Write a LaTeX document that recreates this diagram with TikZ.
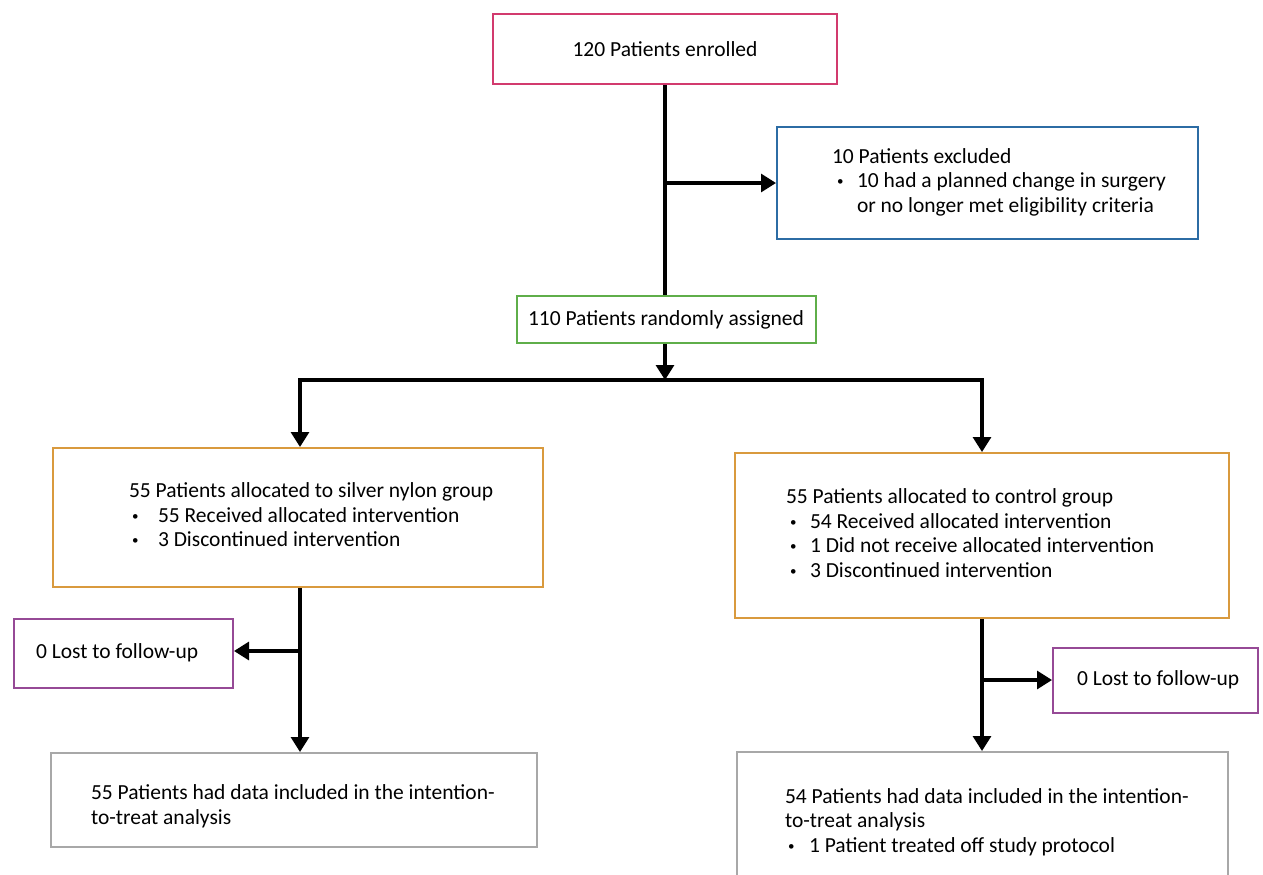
\documentclass[tikz,border=0pt]{standalone}
\usepackage{fontspec}
\setmainfont{Carlito}
\usetikzlibrary{arrows.meta,calc}
\definecolor{cpink}{HTML}{D23A6E}
\definecolor{cblue}{HTML}{2C6CA4}
\definecolor{cgreen}{HTML}{5FAE4A}
\definecolor{corange}{HTML}{D99A3E}
\definecolor{cpurple}{HTML}{964A96}
\definecolor{cgray}{HTML}{A8A8A8}
\newcommand{\bl}[2]{\hspace*{#1}\makebox[#2][l]{\raisebox{2pt}{\fontsize{13}{13}\selectfont\textbullet}}}
\newcommand{\tb}[2]{\noindent\spaceskip=0pt\xspaceskip=0pt\begin{tabular}{@{\hspace{#1}}l@{}}#2\end{tabular}}
\begin{document}
\begin{tikzpicture}[x=1pt,y=-1pt,
  box/.style={draw,line width=2pt,fill=white,inner sep=0pt,align=left,
    font=\fontsize{21.5}{24.5}\selectfont,text=black},
  conn/.style={line width=3.1pt,black},
  arr/.style={conn,-{Triangle[width=18pt,length=15pt]}}]
\useasboundingbox (0,0) rectangle (1263,875);
\fill[white] (0,0) rectangle (1263,875);
% boxes
\node[box,draw=cpink,minimum width=344pt,minimum height=70pt] (enr) at (665,49) {120 Patients enrolled};
\node[box,draw=cblue,text width=421pt,minimum height=112pt] (exc) at (987.5,183)
  {\tb{55pt}{10 Patients excluded\\ \bl{5pt}{20pt}10 had a planned change in surgery\\ \hspace*{25pt}or no longer met eligibility criteria}};
\node[box,draw=cgreen,minimum width=299pt,minimum height=47pt] (rnd) at (666,319.5) {110 Patients randomly assigned};
\node[box,draw=corange,text width=490pt,minimum height=139pt] (sil) at (298,517.5)
  {\tb{76pt}{55 Patients allocated to silver nylon group\\ \bl{3pt}{26pt}55 Received allocated intervention\\ \bl{3pt}{26pt}3 Discontinued intervention}};
\node[box,draw=corange,text width=494pt,minimum height=165pt] (ctl) at (982,535.5)
  {\tb{51pt}{55 Patients allocated to control group\\ \bl{4pt}{20pt}54 Received allocated intervention\\ \bl{4pt}{20pt}1 Did not receive allocated intervention\\ \bl{4pt}{20pt}3 Discontinued intervention}};
\node[box,draw=cpurple,text width=219pt,minimum height=69pt] (lost1) at (123.5,653.5) {\tb{22pt}{0 Lost to follow-up}};
\node[box,draw=cpurple,text width=205pt,minimum height=65pt] (lost2) at (1155.5,680.5) {\tb{24pt}{0 Lost to follow-up}};
\node[box,draw=cgray,text width=486pt,minimum height=94pt] (itt1) at (294,800)
  {\vspace*{-14pt}\tb{40pt}{55 Patients had data included in the intention-\\to-treat analysis}};
\node[box,draw=cgray,text width=491pt,minimum height=128pt] (itt2) at (982.5,816)
  {\vspace*{-14pt}\tb{48pt}{54 Patients had data included in the intention-\\to-treat analysis\\ \bl{3pt}{21pt}1 Patient treated off study protocol}};
% connectors
\coordinate (j1) at (665,183);
\coordinate (sp) at (665,380);
\coordinate (lc) at (300,380);
\coordinate (rc) at (982,380);
\coordinate (j2) at (300,651);
\coordinate (j3) at (982,680);
\draw[conn] (enr.south) -- (enr.south |- rnd.north);
\draw[arr] (j1) -- (exc.west |- j1);
\draw[arr] (rnd.south -| sp) -- (sp);
\draw[conn,line cap=rect] (lc) -- (rc);
\draw[arr] (lc) -- (lc |- sil.north);
\draw[arr] (rc) -- (rc |- ctl.north);
\draw[arr] (sil.south -| j2) -- (itt1.north -| j2);
\draw[arr] (j2) -- (lost1.east |- j2);
\draw[arr] (ctl.south -| j3) -- (itt2.north -| j3);
\draw[arr] (j3) -- (lost2.west |- j3);
\end{tikzpicture}
\end{document}
